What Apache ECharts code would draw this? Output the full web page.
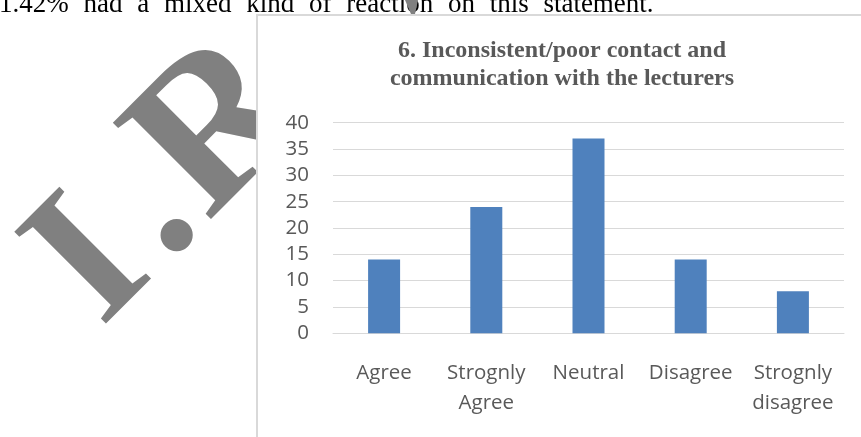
<!DOCTYPE html>
<html>
<head>
<meta charset="utf-8">
<script src="https://cdn.jsdelivr.net/npm/echarts/dist/echarts.min.js"></script>
<style>
  html, body { margin: 0; padding: 0; background: #ffffff; }
  #chart { width: 861px; height: 437px; }
</style>
</head>
<body>
<div id="chart"></div>
<script>
// Survey responses for statement 6
const categories = ['Agree', 'Strognly\nAgree', 'Neutral', 'Disagree', 'Strognly\ndisagree'];
const responses = [14, 24, 37, 14, 8];
const yMin = 0;
const yMax = 40;
const yStep = 5;
const titleLines = ['6. Inconsistent/poor contact and', 'communication with the lecturers'];

// Running document text above the figure (justified line)
const leadWords = ['1.42%', 'had', 'a', 'mixed', 'kind', 'of', 'reaction', 'on', 'this', 'statement.'];

// Diagonal watermark letters
const watermarkGlyphs = ['I', '.', 'R'];

const chart = echarts.init(document.getElementById('chart'), null, { renderer: 'canvas' });

const GRAY = '#808080';
const wmSizes = [198, 198, 210];
const wmAnchors = [[65, 292], [132.4, 225.8], [169.2, 184.2]];

const graphics = [
  {
    type: 'text',
    x: -1,
    y: 5,
    z: -3,
    style: {
      text: leadWords.join('{s| }'),
      font: '27px "Liberation Serif"',
      fill: '#000000',
      align: 'left',
      verticalAlign: 'middle',
      rich: { s: { width: 14.75, font: '27px "Liberation Serif"' } }
    }
  }
];

watermarkGlyphs.forEach(function (g, i) {
  graphics.push({
    type: 'text',
    x: wmAnchors[i][0],
    y: wmAnchors[i][1],
    rotation: Math.PI / 4,
    z: -2,
    style: {
      text: g,
      font: 'bold ' + wmSizes[i] + 'px "Liberation Serif"',
      fill: GRAY,
      align: 'left',
      verticalAlign: 'middle'
    }
  });
});

// tip of a further watermark letter peeking above the figure frame
graphics.push({
  type: 'polygon',
  z: -2,
  shape: { points: [[405, 0], [418, 0], [415, 14], [411, 14]] },
  style: { fill: GRAY }
});

// figure frame
graphics.push({
  type: 'rect',
  z: -1,
  shape: { x: 257, y: 15, width: 700, height: 500 },
  style: { fill: '#ffffff', stroke: '#d9d9d9', lineWidth: 2 }
});

const labelStyle = {
  fontFamily: '"Open Sans"',
  fontSize: 20.5,
  color: '#595959'
};

chart.setOption({
  animation: false,
  backgroundColor: '#ffffff',
  title: {
    text: titleLines.join('\n'),
    left: 562,
    top: 37,
    padding: 0,
    textAlign: 'center',
    textStyle: {
      fontFamily: '"Liberation Serif"',
      fontWeight: 'bold',
      fontSize: 24,
      lineHeight: 28,
      color: '#595959'
    }
  },
  graphic: { elements: graphics },
  grid: { left: 333, right: 17, top: 122.7, bottom: 103.7, containLabel: false },
  xAxis: {
    type: 'category',
    data: categories,
    axisTick: { show: false },
    axisLine: { lineStyle: { color: '#d9d9d9', width: 1 } },
    axisLabel: Object.assign({ interval: 0, margin: 25, lineHeight: 30 }, labelStyle)
  },
  yAxis: {
    type: 'value',
    min: yMin,
    max: yMax,
    interval: yStep,
    axisLine: { show: false },
    axisTick: { show: false },
    axisLabel: Object.assign({ margin: 24 }, labelStyle),
    splitLine: { lineStyle: { color: '#d9d9d9', width: 1 } }
  },
  series: [
    {
      type: 'bar',
      data: responses,
      barWidth: 32,
      itemStyle: { color: '#4f81bd' }
    }
  ]
});
</script>
</body>
</html>
